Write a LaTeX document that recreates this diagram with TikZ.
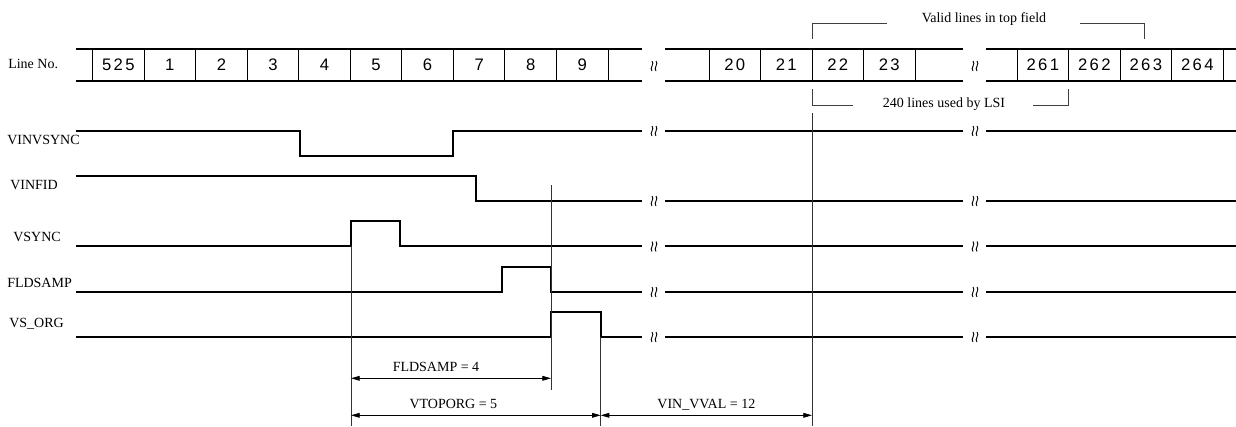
\documentclass[tikz,border=0pt]{standalone}
\usepackage{fontspec}
\setmainfont{Liberation Serif}
\newfontfamily\numfont[LetterSpace=14]{Liberation Sans}
\usetikzlibrary{arrows.meta}

\begin{document}
\begin{tikzpicture}[x=0.75pt, y=-0.75pt,
    sig/.style={line width=1.5pt},
    divider/.style={line width=0.75pt},
    guide/.style={line width=0.6pt, black!80},
    bracket/.style={line width=0.6pt, black!75},
    brkmark/.style={line width=0.7pt},
    dim/.style={{Triangle[length=6.5pt,width=3.6pt]}-{Triangle[length=6.5pt,width=3.6pt]}, line width=0.6pt},
    signame/.style={anchor=west, inner sep=0pt, text height=7pt, text depth=0pt, font=\fontsize{10.5}{12}\selectfont},
    cellnum/.style={inner sep=0pt, font=\fontsize{12.5}{14}\numfont},
    note/.style={inner sep=0pt, text height=7pt, text depth=0pt, font=\fontsize{10.5}{12}\selectfont},
    dimlabel/.style={above=4.5pt, inner sep=0pt, text height=7pt, text depth=0pt, font=\fontsize{10.5}{12}\selectfont}
  ]
    \fill[white] (0,0) rectangle (1236,426);
    \useasboundingbox (0,0) rectangle (1236,426);

    \node[note, anchor=west] (lineno) at (8,64) {Line No.};
    \draw[sig] (76,49) -- (642,49) (76,81) -- (642,81);
    \foreach \x in {92.5,144,195.6,247.2,298.7,350.3,401.8,453.4,504.9,556.5,608,709,760.5,812,863.5,915,1017,1068.5,1120,1171.5,1223}
      \draw[divider] (\x,49) -- (\x,81);
    \foreach \t/\x in {525/118.3,1/169.8,2/221.4,3/273,4/324.5,5/376,6/427.6,7/479.2,8/530.7,9/582.2,20/734.8,21/786.3,22/837.8,23/889.3,261/1042.8,262/1094.3,263/1145.8,264/1197.3}
      \node[cellnum] (cell\t) at (\x,65) {\t};

    \node[signame] (vinvsync) at (7,140) {VINVSYNC};
    \node[signame] (vinfid) at (10,185) {VINFID};
    \node[signame] (vsync) at (13,237) {VSYNC};
    \node[signame] (fldsamp) at (7,283) {FLDSAMP};
    \node[signame] (vsorg) at (9,323) {VS\_ORG};

    \draw[sig] (76,130.5) -- (300,130.5) -- (300,155.5) -- (453,155.5) -- (453,130.5) -- (642,130.5);
    \draw[sig] (76,175.7) -- (476,175.7) -- (476,200.7) -- (642,200.7);
    \draw[sig] (76,246) -- (351,246) -- (351,221) -- (400,221) -- (400,246) -- (642,246);
    \draw[sig] (76,291.7) -- (502,291.7) -- (502,266.7) -- (551,266.7) -- (551,291.7) -- (642,291.7);
    \draw[sig] (76,336.7) -- (551,336.7) -- (551,312.3) -- (600.7,312.3) -- (600.7,336.7) -- (642,336.7);
    \foreach \y in {49,81,130.5,200.7,246,291.7,336.7}
      \draw[sig] (665,\y) -- (963,\y) (986,\y) -- (1236,\y);
    \foreach \x in {654,975}
      \foreach \y in {66,131,201,246.5,292,337}
        \draw[brkmark] ({\x-2},{\y-5}) .. controls ({\x+1},{\y-2}) and ({\x-5},{\y+2}) .. ({\x-2},{\y+5})
          ({\x+2},{\y-5}) .. controls ({\x+5},{\y-2}) and ({\x-1},{\y+2}) .. ({\x+2},{\y+5});

    \node[note] (validtop) at (984,17.5) {Valid lines in top field};
    \draw[bracket] (812,39) -- (812,23) -- (887,23) (1080,23) -- (1144,23) -- (1144,39);
    \node[note] (usedlsi) at (944,103) {240 lines used by LSI};
    \draw[bracket] (812,89) -- (812,105) -- (853,105) (1033,105) -- (1068,105) -- (1068,89);

    \coordinate (vsyncrise) at (351,246);
    \coordinate (fldfall) at (551,185);
    \coordinate (orgfall) at (600.7,336.7);
    \coordinate (linetwtwo) at (812,113);
    \coordinate (fldstart) at (351,378.3);
    \coordinate (fldend) at (551,378.3);
    \coordinate (topstart) at (351,415.3);
    \coordinate (topend) at (600.7,415.3);
    \coordinate (valend) at (812,415.3);
    \draw[guide] (vsyncrise) -- (351,426);
    \draw[guide] (fldfall) -- (551,390);
    \draw[guide] (orgfall) -- (600.7,426);
    \draw[guide] (linetwtwo) -- (812,426);
    \draw[dim] (fldstart) -- node[dimlabel, pos=0.425] (fldlabel) {FLDSAMP = 4} (fldend);
    \draw[dim] (topstart) -- node[dimlabel, pos=0.41] (toplabel) {VTOPORG = 5} (topend);
    \draw[dim] (topend) -- node[dimlabel] (vallabel) {VIN\_VVAL = 12} (valend);
\end{tikzpicture}
\end{document}
